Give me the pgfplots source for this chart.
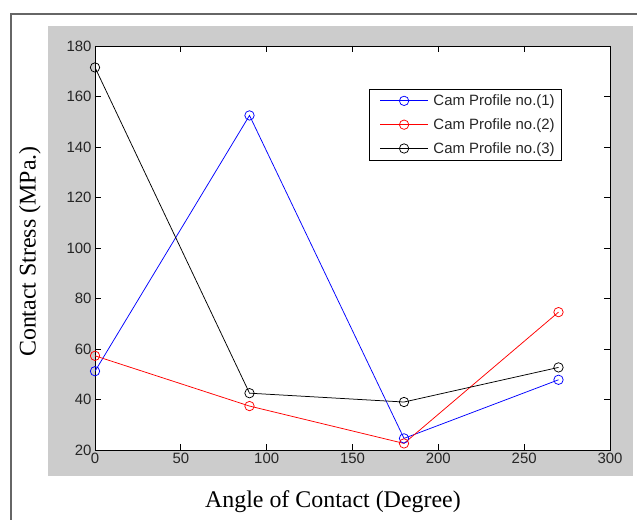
\documentclass[border=0pt]{standalone}
\usepackage{fontspec}
\setmainfont{Liberation Serif}
\newfontfamily\arial{Liberation Sans}
\usepackage{pgfplots}
\pgfplotsset{compat=1.18}
\begin{document}
\begin{tikzpicture}[x=1bp,y=1bp]
\useasboundingbox (0,0) rectangle (637,520);
\fill[white] (0,0) rectangle (637,520);
\draw[line width=1.6bp, color=black!60] (11,0) -- (11,506) -- (637,506);
\fill[black!20] (48,44) rectangle (633,494);
\begin{axis}[
  at={(95bp,70bp)}, anchor=south west,
  scale only axis, width=515bp, height=404bp,
  xmin=0, xmax=300, ymin=20, ymax=180,
  xtick={0,50,...,300}, ytick={20,40,...,180},
  tick align=inside, major tick length=6bp,
  axis background/.style={fill=white},
  axis line style={line width=0.8bp},
  every tick/.style={black, line width=0.8bp},
  ticklabel style={font=\arial\fontsize{15}{17}\selectfont, text=black!85},
  /pgf/number format/assume math mode=true,
  xlabel={Angle of Contact (Degree)},
  ylabel={Contact Stress (MPa.)},
  every axis x label/.style={at={(axis description cs:0.462,0)}, yshift=-52bp, anchor=center, font=\fontsize{24}{28}\selectfont},
  every axis y label/.style={at={(axis description cs:0,0.491)}, xshift=-65bp, rotate=90, anchor=center, font=\fontsize{24}{28}\selectfont},
  legend style={at={(0.907,0.894)}, anchor=north east, draw=black, line width=0.8bp, fill=white,
    font=\arial\fontsize{15}{18}\selectfont, text=black!85,
    inner xsep=5bp, inner ysep=3.5bp, row sep=7.5bp},
  legend cell align=left,
  legend image code/.code={\path (0bp,0bp) (56bp,0bp);\draw[mark repeat=2,mark phase=2,#1] plot coordinates {(5bp,0bp) (29bp,0bp) (53bp,0bp)};},
  every axis plot/.append style={line width=0.75bp, mark=o, mark size=4.7bp, mark options={solid, line width=0.75bp}},
]
\addplot[blue] coordinates {(0,51.2) (90,152.5) (180,24.6) (270,47.8)};
\addlegendentry{Cam Profile no.(1)}
\addplot[red] coordinates {(0,57.3) (90,37.4) (180,22.6) (270,74.6)};
\addlegendentry{Cam Profile no.(2)}
\addplot[black] coordinates {(0,171.5) (90,42.5) (180,39.0) (270,52.7)};
\addlegendentry{Cam Profile no.(3)}
\end{axis}
\end{tikzpicture}
\end{document}
